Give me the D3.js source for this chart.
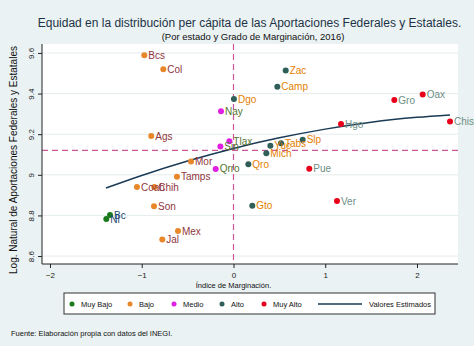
<!DOCTYPE html>
<html>
<head>
<meta charset="utf-8">
<script src="https://cdn.jsdelivr.net/npm/d3@7"></script>
<style>
  body { margin: 0; background: #fff; }
  svg text { font-family: "Liberation Sans", Arial, sans-serif; }
</style>
</head>
<body>
<div id="content"></div>
<script>
// states: [abbr, marginacion index, log aportaciones]
let muyBajo = [["Bc", -1.346, 8.802], ["Nl", -1.386, 8.782]];
let bajo = [["Bcs", -0.972, 9.589], ["Col", -0.765, 9.520], ["Ags", -0.896, 9.191],
    ["Mor", -0.463, 9.066], ["Tamps", -0.616, 8.991], ["Coah", -1.052, 8.940],
    ["Chih", -0.863, 8.940], ["Son", -0.866, 8.845], ["Mex", -0.605, 8.723], ["Jal", -0.776, 8.682]];
let medio = [["Nay", -0.136, 9.313], ["Tlax", -0.045, 9.165], ["Sin", -0.143, 9.140], ["Qrro", -0.194, 9.029]];
let alto = [["Dgo", 0.005, 9.373], ["Zac", 0.569, 9.513], ["Camp", 0.478, 9.434], ["Slp", 0.754, 9.173],
    ["Tabs", 0.518, 9.155], ["Yuc", 0.402, 9.143], ["Mich", 0.358, 9.106], ["Qro", 0.162, 9.052], ["Gto", 0.205, 8.848]];
let muyAlto = [["Gro", 1.753, 9.368], ["Oax", 2.062, 9.395], ["Hgo", 1.172, 9.250],
    ["Chis", 2.360, 9.263], ["Pue", 0.826, 9.030], ["Ver", 1.128, 8.871]];

// fitted values (Valores Estimados)
let fitX = [-1.39, -1, -0.5, 0, 0.5, 1, 1.5, 2, 2.36];
let fitY = [8.935, 8.997, 9.068, 9.13, 9.182, 9.225, 9.259, 9.283, 9.295];

let xTicks = [-2, -1, 0, 1, 2];
let yTicks = [8.6, 8.8, 9, 9.2, 9.4, 9.6];
let meanX = 0;
let meanY = 9.12;

let groups = [
    { name: 'Muy Bajo', data: muyBajo, color: '#1a7a1a', label: '#1a476f' },
    { name: 'Bajo', data: bajo, color: '#e8872a', label: '#90353b' },
    { name: 'Medio', data: medio, color: '#e020e0', label: '#55752f' },
    { name: 'Alto', data: alto, color: '#2f5f58', label: '#e37e00' },
    { name: 'Muy Alto', data: muyAlto, color: '#e8001a', label: '#6e8e84' }
];

let width = 474, height = 346;
let plotL = 42, plotR = 458, plotT = 44, plotB = 264;

let svg = d3.select('#content').append('svg').attr('width', width).attr('height', height);
svg.append('rect').attr('width', width).attr('height', height).attr('fill', '#eaf2f3');
svg.append('rect').attr('x', plotL).attr('y', plotT).attr('width', plotR - plotL).attr('height', plotB - plotT).attr('fill', '#fff');

let xScale = d3.scaleLinear().domain([-2.087, 2.447]).range([plotL, plotR]);
let yScale = d3.scaleLinear().domain([8.561, 9.644]).range([plotB, plotT]);

// grid
svg.append('g').selectAll('line').data(yTicks).enter().append('line')
    .attr('x1', plotL).attr('x2', plotR)
    .attr('y1', d => yScale(d)).attr('y2', d => yScale(d))
    .attr('stroke', '#e4eced').attr('stroke-width', 1);

// reference lines
svg.append('line').attr('x1', xScale(meanX)).attr('x2', xScale(meanX)).attr('y1', plotT).attr('y2', plotB)
    .attr('stroke', '#c8589a').attr('stroke-width', 1.2).attr('stroke-dasharray', '6,4');
svg.append('line').attr('x1', plotL).attr('x2', plotR).attr('y1', yScale(meanY)).attr('y2', yScale(meanY))
    .attr('stroke', '#c8589a').attr('stroke-width', 1.2).attr('stroke-dasharray', '6,4');

// axes
let xAxis = d3.axisBottom(xScale).tickValues(xTicks).tickSize(4).tickFormat(d3.format('d'));
let yAxis = d3.axisLeft(yScale).tickValues(yTicks).tickSize(4).tickFormat(d => d3.format('~g')(d));

let gx = svg.append('g').attr('transform', `translate(0,${plotB})`).call(xAxis);
gx.select('.domain').attr('d', `M${plotL},0H${plotR}`);
gx.selectAll('text').attr('font-size', 8).attr('fill', '#222').attr('dy', '0.9em');

let gy = svg.append('g').attr('transform', `translate(${plotL},0)`).call(yAxis);
gy.select('.domain').attr('d', `M0,${plotT}V${plotB}`);
gy.selectAll('text').attr('font-size', 8).attr('fill', '#222')
    .attr('text-anchor', 'middle').attr('x', 0).attr('dy', 0)
    .attr('transform', d => `translate(-8,0) rotate(-90)`);
[gx, gy].forEach(g => g.selectAll('path, line').attr('stroke', '#222'));

// fitted line
let fit = fitX.map((x, i) => [x, fitY[i]]);
svg.append('path').datum(fit)
    .attr('d', d3.line().x(d => xScale(d[0])).y(d => yScale(d[1])).curve(d3.curveMonotoneX))
    .attr('fill', 'none').attr('stroke', '#1a3a55').attr('stroke-width', 1.5);

// points
groups.forEach(g => {
    let sel = svg.append('g');
    sel.selectAll('circle').data(g.data).enter().append('circle')
        .attr('cx', d => xScale(d[1])).attr('cy', d => yScale(d[2]))
        .attr('r', 3).attr('fill', g.color);
    sel.selectAll('text').data(g.data).enter().append('text')
        .attr('x', d => xScale(d[1]) + 4).attr('y', d => yScale(d[2]))
        .attr('dy', '0.35em').attr('font-size', 10).attr('fill', g.label)
        .text(d => d[0]);
});

// titles
svg.append('text').attr('x', 249.5).attr('y', 27).attr('text-anchor', 'middle')
    .attr('font-size', 12).attr('fill', '#1e3346')
    .text('Equidad en la distribución per cápita de las Aportaciones Federales y Estatales.');
svg.append('text').attr('x', 253).attr('y', 40).attr('text-anchor', 'middle')
    .attr('font-size', 9.5).attr('fill', '#111')
    .text('(Por estado y Grado de Marginación, 2016)');
svg.append('text').attr('transform', `translate(17,${(plotT + plotB) / 2 + 6}) rotate(-90)`)
    .attr('text-anchor', 'middle').attr('font-size', 10).attr('fill', '#111')
    .text('Log. Natural de Aportaciones Federales y Estatales');
svg.append('text').attr('x', xScale(0)).attr('y', 288).attr('text-anchor', 'middle')
    .attr('font-size', 7.5).attr('fill', '#111').text('Índice de Marginación.');

// legend
let legend = svg.append('g');
legend.append('rect').attr('x', 64).attr('y', 293).attr('width', 371).attr('height', 21)
    .attr('fill', '#fff').attr('stroke', '#333').attr('stroke-width', 1);
let legX = [72, 130, 174, 222, 264];
groups.forEach((g, i) => {
    legend.append('circle').attr('cx', legX[i]).attr('cy', 304).attr('r', 2.5).attr('fill', g.color);
    legend.append('text').attr('x', legX[i] + 9).attr('y', 304).attr('dy', '0.35em')
        .attr('font-size', 7.5).attr('fill', '#111').text(g.name);
});
legend.append('line').attr('x1', 318).attr('x2', 362).attr('y1', 304).attr('y2', 304)
    .attr('stroke', '#1a3a55').attr('stroke-width', 1.5);
legend.append('text').attr('x', 369).attr('y', 304).attr('dy', '0.35em')
    .attr('font-size', 7.5).attr('fill', '#111').text('Valores Estimados');

svg.append('text').attr('x', 11).attr('y', 336).attr('font-size', 7.5).attr('fill', '#111')
    .text('Fuente: Elaboración propia con datos del INEGI.');
</script>
</body>
</html>
